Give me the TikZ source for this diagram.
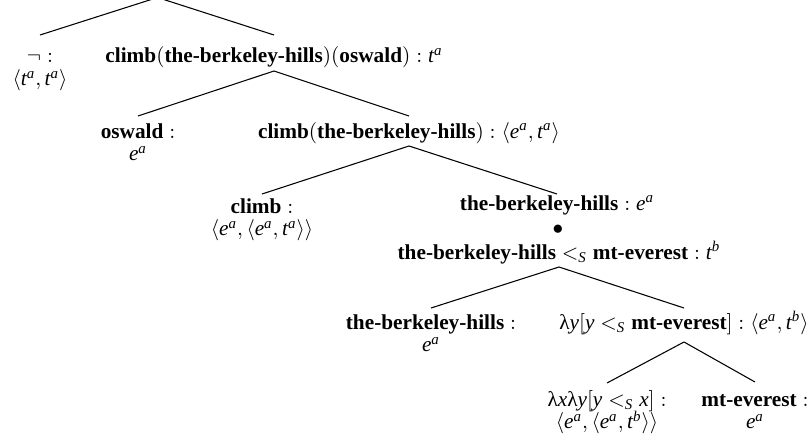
\documentclass[tikz,border=0pt]{standalone}
\usepackage{amsmath}
\usepackage{fontspec}
\setmainfont{Liberation Serif}
\usetikzlibrary{calc}
\newcommand\iv[1]{\text{\normalfont\itshape #1}}
\newcommand\twoline[2]{\vtop{\baselineskip=10.8pt\lineskiplimit=-\maxdimen\halign{\hfil##\hfil\cr#1\cr#2\cr}}}
\begin{document}
\begin{tikzpicture}[x=0.47pt,y=-0.47pt,
  every node/.style={inner sep=0pt,font=\fontsize{10}{12}\selectfont},
  lbl/.style={anchor=base},
  tline/.style={line width=0.5pt}]
\useasboundingbox (0,0) rectangle (809,444);
\clip (0,0) rectangle (809,444);
\coordinate (root) at (157.5,-2.5);
\node[lbl] (neg) at (40,63) {\twoline{$\neg :$}{$\langle \iv t^{\iv a},\iv t^{\iv a}\rangle$}};
\node[lbl] (A) at (274,63) {$\textbf{climb}(\textbf{the-berkeley-hills})(\textbf{oswald}) : \iv t^{\iv a}$};
\node[lbl] (osw) at (138,138) {\twoline{$\textbf{oswald} :$}{$\iv e^{\iv a}$}};
\node[lbl] (B) at (409,138) {$\textbf{climb}(\textbf{the-berkeley-hills}) : \langle \iv e^{\iv a},\iv t^{\iv a}\rangle$};
\node[lbl] (clb) at (262,213) {\twoline{$\textbf{climb} :$}{$\langle \iv e^{\iv a},\langle \iv e^{\iv a},\iv t^{\iv a}\rangle\rangle$}};
\node[lbl] (C) at (557,210) {$\textbf{the-berkeley-hills} : \iv e^{\iv a}$};
\node (dot) at (558,230) {$\bullet$};
\node[lbl] (C3) at (559,259) {$\textbf{the-berkeley-hills} <_{\iv S} \textbf{mt-everest} : \iv t^{\iv b}$};
\node[lbl] (D) at (431,329) {\twoline{$\textbf{the-berkeley-hills} :$}{$\iv e^{\iv a}$}};
\node[lbl] (L) at (684,329) {$\text{λ}\iv y[\iv y <_{\iv S} \textbf{mt-everest}] : \langle \iv e^{\iv a},\iv t^{\iv b}\rangle$};
\node[lbl] (E) at (607,406) {\twoline{$\text{λ}\iv x\text{λ}\iv y[\iv y <_{\iv S} \iv x] :$}{$\langle \iv e^{\iv a},\langle \iv e^{\iv a},\iv t^{\iv b}\rangle\rangle$}};
\node[lbl] (F) at (755,406) {\twoline{$\textbf{mt-everest} :$}{$\iv e^{\iv a}$}};
\draw[tline] (root) -- ($(neg.base)+(0,-28)$);
\draw[tline] (root) -- ($(A.base)+(0,-28)$);
\draw[tline] ($(A.base)+(0,8)$) -- ($(osw.base)+(0,-22)$);
\draw[tline] ($(A.base)+(0,8)$) -- ($(B.base)+(0,-22)$);
\draw[tline] ($(B.base)+(0,8)$) -- ($(clb.base)+(0,-19)$);
\draw[tline] ($(B.base)+(0,8)$) -- ($(C.base)+(0,-16)$);
\draw[tline] ($(C3.base)+(0,8)$) -- ($(D.base)+(0,-21)$);
\draw[tline] ($(C3.base)+(0,8)$) -- ($(L.base)+(0,-21)$);
\draw[tline] ($(L.base)+(0,13)$) -- ($(E.base)+(0,-23)$);
\draw[tline] ($(L.base)+(0,13)$) -- ($(F.base)+(0,-24)$);
\end{tikzpicture}
\end{document}
